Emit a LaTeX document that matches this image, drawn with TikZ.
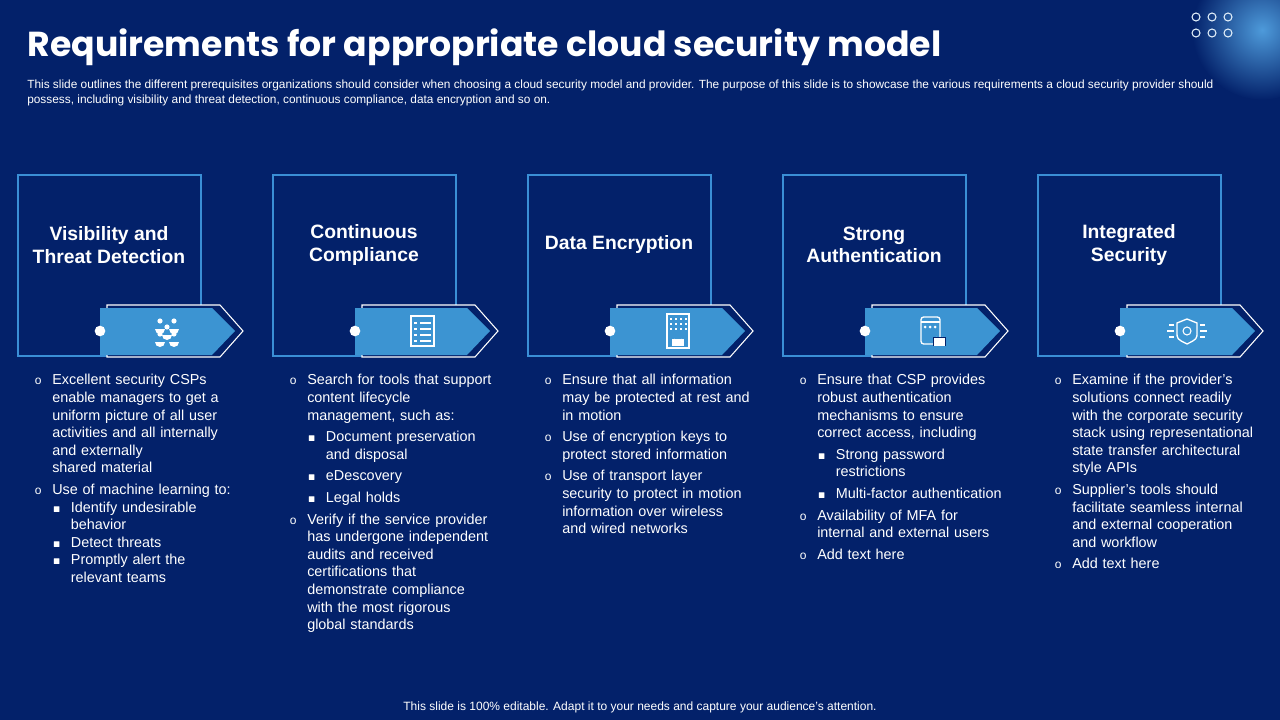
\documentclass[tikz,border=0pt]{standalone}
\usepackage{fontspec}
\setmainfont{Liberation Sans}
\newfontfamily\titlefont{Poppins}
\usepackage{enumitem}
\setlist[itemize]{leftmargin=15pt,itemsep=3pt,topsep=0pt,parsep=0pt,labelsep=8pt}
\setlist[itemize,1]{label={\small o}}
\setlist[itemize,2]{label={\tiny$\blacksquare$},leftmargin=14pt,itemsep=3pt,topsep=3pt}
\usepackage{amssymb}
\definecolor{bg}{HTML}{03216A}
\definecolor{edge}{HTML}{3A8FD6}
\definecolor{arrowfill}{HTML}{3C94D2}
\begin{document}
\begin{tikzpicture}[x=0.75pt,y=-0.75pt,
  card/.style={draw=edge,line width=2.2pt},
  ttl/.style={text=white,font=\bfseries\fontsize{14.5}{17}\selectfont,align=center},
  body/.style={text=white,font=\fontsize{10.8}{13.2}\selectfont,text width=170pt,anchor=north west,inner sep=0pt,align=left},
  dotc/.style={circle,fill=white,minimum size=8pt,inner sep=0pt}]
\fill[bg] (0,0) rectangle (1280,720);
\useasboundingbox (0,0) rectangle (1280,720);
\shade[inner color=edge!90,outer color=bg] (1262,30) circle (70);
\fill[bg,even odd rule] (1180,-50) rectangle (1350,120) (1262,30) circle (70);
\foreach \x in {1196,1212,1228}{\foreach \y in {17,33}{\draw[white!85!edge,line width=0.8pt] (\x,\y) circle (4);}}
\node[anchor=west,text=white,font=\titlefont\bfseries\fontsize{26}{30}\selectfont] (title) at (23,47) {Requirements for appropriate cloud security model};
\node[anchor=north west,text=white,font=\fontsize{8.9}{11}\selectfont,inner sep=0pt,align=left] (sub) at (27,80) {This slide outlines the different prerequisites organizations should consider when choosing a cloud security model and provider. The purpose of this slide is to showcase the various requirements a cloud security provider should\\ possess, including visibility and threat detection, continuous compliance, data encryption and so on.};
\node[text=white,font=\fontsize{9}{10}\selectfont] (foot) at (640,707) {This slide is 100\% editable. Adapt it to your needs and capture your audience's attention.};
\foreach \i/\t in {0/{Visibility and\\Threat Detection},1/{Continuous\\Compliance},2/{Data Encryption},3/{Strong\\Authentication},4/{Integrated\\Security}}{
  \begin{scope}[xshift=\i*255*0.75pt]
  \draw[card] (18,175) rectangle (201,356);
  \draw[white,line width=0.8pt,fill=bg] (107,305) -- (220,305) -- (243,331) -- (220,357) -- (107,357) -- cycle;
  \fill[arrowfill] (100,308) -- (212,308) -- (235,331) -- (212,355) -- (100,355) -- cycle;
  \node[dotc] (d\i) at (100,331) {};
  \node[ttl] (t\i) at (109,245) {\t};
  \end{scope}}
% icons
\begin{scope}[white]
 \foreach \dx/\dy in {-7/-7,7/-7,0/-1,-7/6,7/6}{\fill (167+\dx,331+\dy-3) circle (2.6); \fill (167+\dx-5,331+\dy+5) arc (180:0:5) -- cycle;}
 \draw[line width=1pt] (411,316) rectangle (434,346);
 \foreach \y in {322,328,334,340}{\fill (414,\y) rectangle (417,\y+2); \fill (420,\y) rectangle (431,\y+2);}
 \draw[line width=1pt] (667,314) rectangle (689,348);
 \foreach \y in {318,323,328}{\foreach \x in {670,675,680,685}{\fill (\x,\y) rectangle (\x+2,\y+2);}}
 \draw[line width=1pt] (674,339) arc (180:0:4); \fill (672,339) rectangle (684,346);
 \draw[line width=1pt,rounded corners=2pt] (921,317) rectangle (940,344);
 \fill (921,321) rectangle (940,323);
 \foreach \x in {925,930,935}{\fill (\x,327) circle (1.5);}
 \draw[line width=1pt] (936,337) arc (180:0:3.5); \fill[bg] (933,337) rectangle (946,346); \fill (934,338) rectangle (945,346);
 \draw[line width=1pt] (1187,319) -- (1197,323) -- (1197,332) .. controls (1197,339) .. (1187,344) .. controls (1177,339) .. (1177,332) -- (1177,323) -- cycle;
 \draw[line width=0.8pt] (1187,331) circle (4);
 \foreach \s in {-1,1}{\draw[line width=0.8pt] (1187+\s*13,325) -- (1187+\s*18,325); \draw[line width=0.8pt] (1187+\s*13,331) -- (1187+\s*20,331); \draw[line width=0.8pt] (1187+\s*13,337) -- (1187+\s*18,337);}
\end{scope}
\node[body] (b0) at (32,367) {\begin{itemize}
\item Excellent security CSPs\\ enable managers to get a\\ uniform picture of all user\\ activities and all internally\\ and externally\\ shared material
\item Use of machine learning to:
\begin{itemize}[topsep=0pt,itemsep=0pt]\item Identify undesirable\\ behavior \item Detect threats \item Promptly alert the\\ relevant teams\end{itemize}
\end{itemize}};
\node[body] (b1) at (287,367) {\begin{itemize}
\item Search for tools that support\\ content lifecycle\\ management, such as:
\begin{itemize}\item Document preservation\\ and disposal \item eDescovery \item Legal holds\end{itemize}
\item Verify if the service provider\\ has undergone independent\\ audits and received\\ certifications that\\ demonstrate compliance\\ with the most rigorous\\ global standards
\end{itemize}};
\node[body] (b2) at (542,367) {\begin{itemize}
\item Ensure that all information\\ may be protected at rest and\\ in motion
\item Use of encryption keys to\\ protect stored information
\item Use of transport layer\\ security to protect in motion\\ information over wireless\\ and wired networks
\end{itemize}};
\node[body] (b3) at (797,367) {\begin{itemize}
\item Ensure that CSP provides\\ robust authentication\\ mechanisms to ensure\\ correct access, including
\begin{itemize}\item Strong password\\ restrictions \item Multi-factor authentication\end{itemize}
\item Availability  of MFA for\\ internal and external users
\item Add text here
\end{itemize}};
\node[body] (b4) at (1052,367) {\begin{itemize}
\item Examine if the provider's\\ solutions connect readily\\ with the corporate security\\ stack using representational\\ state transfer architectural\\ style APIs
\item Supplier's tools should\\ facilitate seamless internal\\ and external cooperation\\ and workflow
\item Add text here
\end{itemize}};
\end{tikzpicture}
\end{document}
